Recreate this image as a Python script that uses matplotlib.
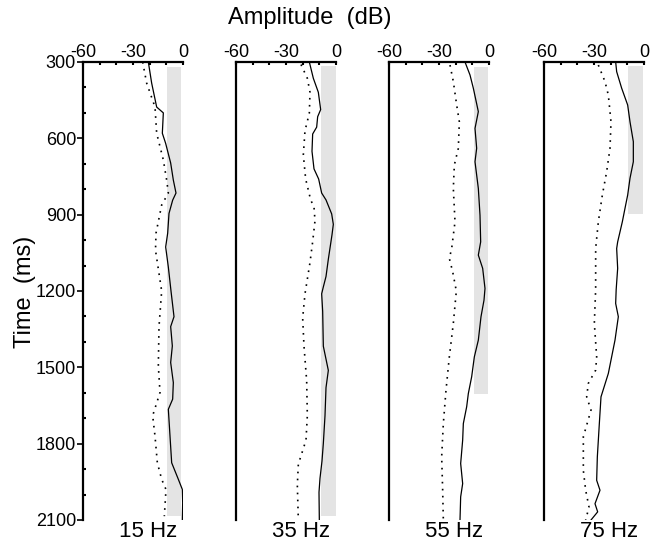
import numpy as np
import matplotlib
matplotlib.use('Agg')
from matplotlib import pyplot as plt
from matplotlib.ticker import MultipleLocator, FixedLocator

plt.rcParams['font.family'] = ['Liberation Sans', 'DejaVu Sans']
plt.rcParams['axes.unicode_minus'] = False

freqs = ['15 Hz', '35 Hz', '55 Hz', '75 Hz']

# solid curves (time ms, amplitude dB)
t_solid_15 = [300, 383, 477, 500, 580, 620, 697, 764, 815, 843, 895, 973, 1027, 1106, 1200, 1301,
              1340, 1416, 1481, 1560, 1625, 1665, 1770, 1875, 1940, 1980, 2032, 2100]
a_solid_15 = [-20.8, -18.8, -15.8, -11.8, -12.4, -10.4, -7.4, -5.8, -4.2, -6.2, -8.4, -9.2, -10.4, -8.8,
              -7.2, -5.4, -7.4, -6.4, -7.4, -5.8, -6.2, -8.8, -7.8, -6.8, -2.8, -0.4, -0.2, -0.4]
t_dot_15 = [300, 383, 477, 580, 685, 764, 815, 862, 973, 1040, 1200, 1340, 1494, 1599, 1690, 1770,
            1875, 1940, 1980, 2085]
a_dot_15 = [-24.2, -21.8, -16.8, -15.8, -11.8, -9.8, -8.8, -12.8, -16.2, -16.5, -12.8, -14.4, -14.8,
            -13.8, -18.2, -16.8, -15.4, -12.8, -10.2, -11.2]

t_solid_35 = [300, 364, 419, 487, 515, 556, 583, 651, 720, 760, 815, 842, 897, 938, 979, 1075, 1143,
              1184, 1211, 1280, 1417, 1512, 1580, 1690, 1799, 1868, 1936, 1991, 2100]
a_solid_35 = [-16, -13.6, -10.6, -9.2, -11, -11.6, -14, -14.4, -13.2, -10.4, -8.6, -6, -2.6, -1.6, -2.4,
              -4.6, -6, -7.6, -8.6, -8, -7.6, -4.6, -6, -6.6, -7.6, -8.4, -9.6, -10.2, -10]
t_dot_35 = [310, 364, 419, 501, 570, 665, 760, 842, 870, 924, 1006, 1088, 1211, 1307, 1417, 1553,
            1690, 1786, 1881, 1963, 2100]
a_dot_35 = [-21, -17.2, -15.6, -16, -18.6, -19.6, -18.2, -15.2, -13.2, -12.6, -14, -15.6, -18.6, -20,
            -19.2, -17.6, -17.2, -18, -22.6, -23.2, -22.6]

t_solid_55 = [300, 351, 403, 495, 561, 639, 692, 797, 902, 1007, 1059, 1111, 1190, 1236, 1301, 1393,
              1459, 1537, 1603, 1655, 1721, 1786, 1878, 1957, 2009, 2100]
a_solid_55 = [-14.4, -11.4, -9.4, -6.4, -8.4, -7.4, -8.4, -6.4, -5.4, -5, -6.4, -3.8, -2.4, -3, -4.8,
              -6.4, -8.8, -10.4, -12.4, -13.4, -15.4, -15.8, -17, -15.8, -17, -17.4]
t_dot_55 = [312, 377, 469, 535, 639, 705, 797, 928, 1033, 1072, 1124, 1200, 1327, 1459, 1590, 1721,
            1852, 1983, 2100]
a_dot_55 = [-23.4, -21.4, -19.4, -17.8, -18.4, -20.8, -21.4, -20.4, -22.4, -23.8, -21.8, -19.6, -21.4,
            -23.8, -25.8, -27.4, -28.4, -27.8, -27.4]

t_solid_75 = [300, 338, 403, 469, 535, 613, 692, 757, 823, 875, 928, 1007, 1033, 1111, 1195, 1249,
              1301, 1393, 1524, 1616, 1721, 1852, 1944, 1983, 2036, 2068, 2100]
a_solid_75 = [-17, -16.4, -13.4, -9.8, -8.4, -6.4, -6.4, -8.4, -9.8, -11.4, -13, -15.8, -16.4, -15.8,
              -16.7, -17, -15.4, -17.4, -21.4, -25.8, -26.8, -28, -28.4, -26.4, -29.4, -27.8, -31.8]
t_dot_75 = [312, 377, 430, 535, 639, 731, 823, 928, 1033, 1193, 1327, 1459, 1511, 1563, 1616, 1668,
            1773, 1905, 1983, 2049, 2100]
a_dot_75 = [-27.4, -23.4, -21.4, -19.8, -20.4, -22.4, -25, -27.4, -29, -29, -29.8, -28.4, -29, -33.4,
            -34.4, -31.8, -36.4, -36.4, -35, -33, -35]

# shaded band per panel: amplitude range and time range
band_lo = [-9.6, -9.0, -9.0, -9.4]
band_hi = [-1.2, -0.2, -0.4, -0.4]
band_t0 = [318, 315, 318, 316]
band_t1 = [2085, 2085, 1605, 899]

solids = [(t_solid_15, a_solid_15), (t_solid_35, a_solid_35), (t_solid_55, a_solid_55), (t_solid_75, a_solid_75)]
dots = [(t_dot_15, a_dot_15), (t_dot_35, a_dot_35), (t_dot_55, a_dot_55), (t_dot_75, a_dot_75)]

W, H = 651, 545
fig = plt.figure(figsize=(W / 100, H / 100), dpi=100)
lefts = [83, 236, 389, 544]

for i in range(4):
    ax = fig.add_axes([lefts[i] / W, 25 / H, 100 / W, 458 / H])
    ax.fill_betweenx([band_t0[i], band_t1[i]], band_lo[i], band_hi[i], color='#e4e4e4', lw=0)
    ax.plot(dots[i][1], dots[i][0], color='black', lw=1.2, linestyle=(0, (1, 3.2)))
    ax.plot(solids[i][1], solids[i][0], color='black', lw=0.9)
    ax.set_xlim(-60, 0)
    ax.set_ylim(2100, 300)
    ax.spines['right'].set_visible(False)
    ax.spines['bottom'].set_visible(False)
    ax.spines['left'].set_linewidth(1.6)
    ax.spines['top'].set_linewidth(1.6)
    ax.xaxis.tick_top()
    ax.xaxis.set_major_locator(FixedLocator([-60, -30, 0]))
    ax.xaxis.set_minor_locator(MultipleLocator(10))
    ax.tick_params(axis='x', which='both', direction='in', length=2.5, width=1.5, labelsize=13, pad=1)
    if i == 0:
        ax.yaxis.set_major_locator(MultipleLocator(300))
        ax.yaxis.set_minor_locator(MultipleLocator(100))
        ax.tick_params(axis='y', which='major', direction='out', length=4, width=1.2, labelsize=13, pad=1)
        ax.tick_params(axis='y', which='minor', direction='in', length=2.5, width=1.5)
    else:
        ax.set_yticks([])
    ax.annotate(freqs[i], xy=(-21, 2100), xytext=(0, -1), textcoords='offset points',
                ha='center', va='top', fontsize=16)

fig.text(310 / W, 1 - 18 / H, 'Amplitude  (dB)', ha='center', va='center', fontsize=17)
fig.text(25 / W, 1 - 292 / H, 'Time  (ms)', ha='center', va='center', rotation=90, fontsize=17)

plt.savefig('out.png', dpi=100)
